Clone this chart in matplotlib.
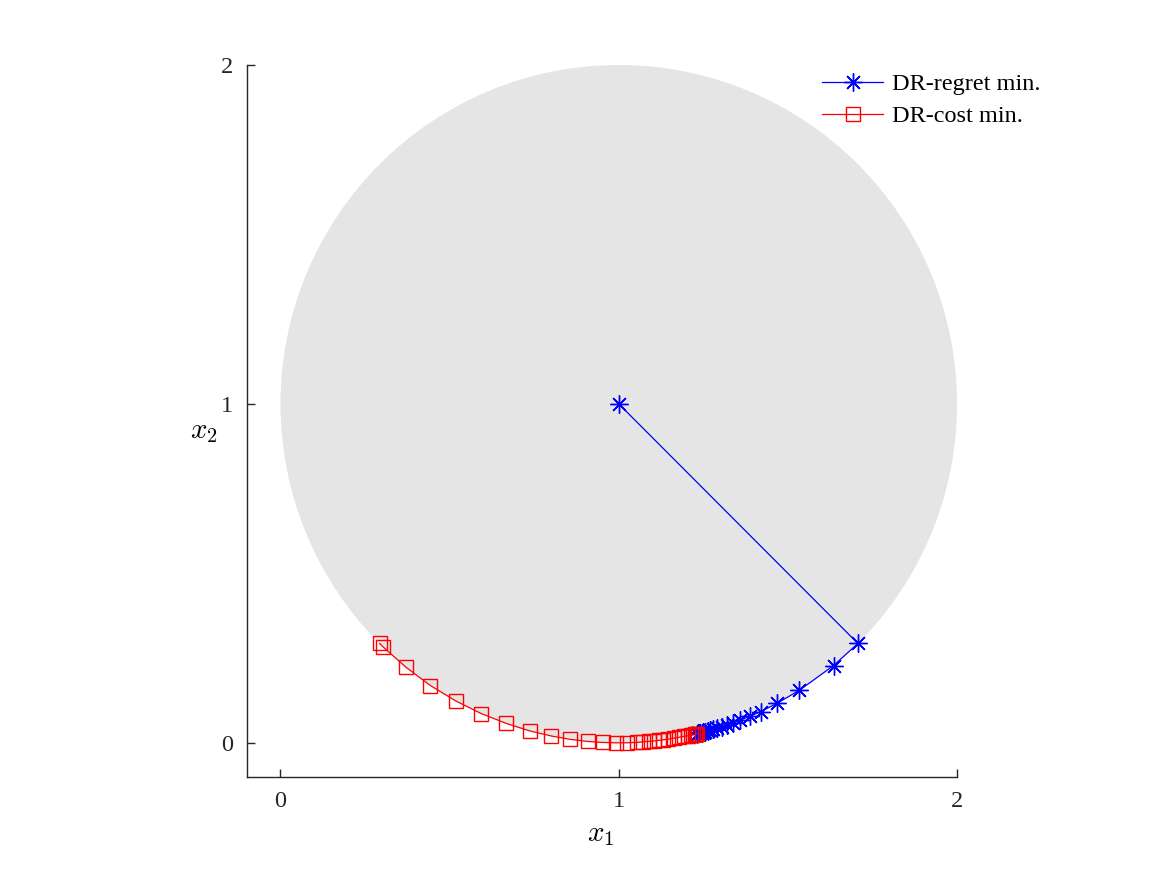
import matplotlib
matplotlib.use("Agg")
import matplotlib.pyplot as plt
from matplotlib.patches import Circle

plt.rcParams['font.family'] = ['Liberation Serif', 'DejaVu Serif']
plt.rcParams['mathtext.fontset'] = 'cm'

# ball (feasible region)
center = (1.0, 1.0)
radius = 1.0

# DR-regret minimisation path (starts at the centre)
regret_x = [1.000, 1.707, 1.635, 1.534, 1.467, 1.420, 1.387, 1.359, 1.339, 1.320,
            1.305, 1.290, 1.280, 1.271, 1.263, 1.256, 1.250, 1.245, 1.241, 1.238,
            1.236, 1.234, 1.233, 1.232]
regret_y = [1.000, 0.293, 0.228, 0.155, 0.116, 0.092, 0.078, 0.067, 0.059, 0.052,
            0.048, 0.043, 0.040, 0.037, 0.035, 0.033, 0.032, 0.030, 0.030, 0.029,
            0.029, 0.028, 0.028, 0.027]

# DR-cost minimisation path
cost_x = [0.293, 0.303, 0.371, 0.443, 0.519, 0.594, 0.668, 0.737, 0.801, 0.857,
          0.908, 0.953, 0.992, 1.024, 1.054, 1.073, 1.088, 1.103, 1.118, 1.132,
          1.147, 1.162, 1.177, 1.192, 1.206, 1.213, 1.220, 1.225, 1.229, 1.232]
cost_y = [0.293, 0.283, 0.223, 0.169, 0.123, 0.086, 0.057, 0.035, 0.020, 0.010,
          0.004, 0.001, 0.000, 0.000, 0.001, 0.003, 0.004, 0.005, 0.007, 0.009,
          0.011, 0.013, 0.016, 0.019, 0.021, 0.023, 0.024, 0.026, 0.027, 0.027]

fig = plt.figure(figsize=(11.63, 8.72), dpi=100)
ax = fig.add_axes([0.2121, 0.1093, 0.6108, 0.8162])

ax.add_patch(Circle(center, radius, facecolor='#e5e5e5', edgecolor='none', zorder=0))

ax.plot(regret_x, regret_y, color='b', lw=0.9, marker=(8, 2, 0), ms=13, mew=1.0,
        label='DR-regret min.')
ax.plot(cost_x, cost_y, color='r', lw=0.9, marker='s', ms=10, mew=1.0, mfc='none',
        label='DR-cost min.')

ax.set_xlim(-0.1, 2)
ax.set_ylim(-0.1, 2)
ax.set_xticks([0, 1, 2])
ax.set_yticks([0, 1, 2])
ax.tick_params(direction='in', length=6, width=1, labelsize=17.5, color='#262626',
               labelcolor='#262626', pad=10)
for s in ['top', 'right']:
    ax.spines[s].set_visible(False)
for s in ['left', 'bottom']:
    ax.spines[s].set_color('#262626')
    ax.spines[s].set_linewidth(1)

ax.set_xlabel(r'$x_1$', fontsize=21)
ax.set_ylabel(r'$x_2$', fontsize=21, rotation=0, va='center', ha='center')
ax.xaxis.set_label_coords(0.498, -0.063)
ax.yaxis.set_label_coords(-0.06, 0.485)

leg = ax.legend(loc='upper right', bbox_to_anchor=(1040 / 1163, 1 - 73 / 872),
                bbox_transform=fig.transFigure, frameon=False, fontsize=17.5,
                handlelength=2.5, borderaxespad=0, borderpad=0,
                handletextpad=0.35, labelspacing=0.42)

fig.savefig('out.png', dpi=100)
